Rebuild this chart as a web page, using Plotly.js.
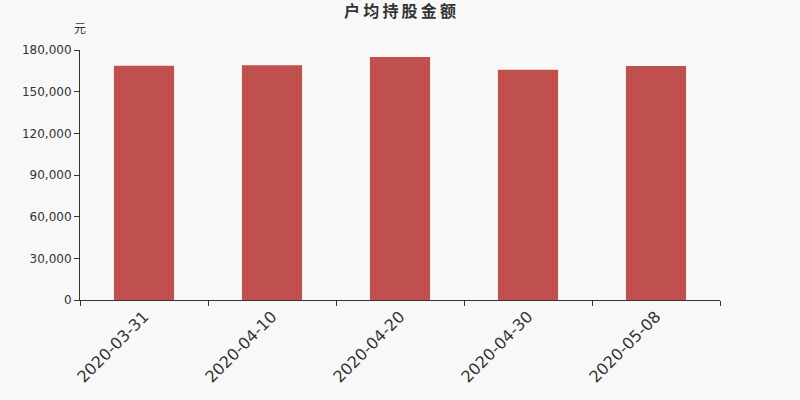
<!DOCTYPE html>
<html>
<head>
<meta charset="utf-8">
<script src="https://cdn.plot.ly/plotly-3.0.1.min.js"></script>
<style>
  html, body { margin: 0; padding: 0; background: #f8f8f8; }
  #chart { width: 800px; height: 400px; }
</style>
</head>
<body>
<div id="chart"></div>
<script>
// 户均持股金额 (元) by report date
const dates = ['2020-03-31', '2020-04-10', '2020-04-20', '2020-04-30', '2020-05-08'];
const amounts = [168700, 169100, 174900, 165800, 168400];
const yTicks = [0, 30000, 60000, 90000, 120000, 150000, 180000];
const chartTitle = '户均持股金额';
const unitLabel = '元';

const font = 'DejaVu Sans, Noto Sans CJK SC, sans-serif';

const data = [{
    type: 'bar',
    x: dates,
    y: amounts,
    marker: { color: '#c0504d' },
    hoverinfo: 'x+y'
}];

const layout = {
    width: 800,
    height: 400,
    paper_bgcolor: '#f8f8f8',
    plot_bgcolor: '#f8f8f8',
    margin: { l: 80, r: 80, t: 50, b: 100 },
    bargap: 0.53,
    showlegend: false,
    font: { family: font, color: '#333' },
    title: {
        // thin spaces between characters, the reference title is letter-spaced
        text: '<b>' + chartTitle.split('').join('\u2009') + '</b>',
        x: 0.5, xanchor: 'center',
        y: 0.985, yanchor: 'top',
        font: { size: 16, color: '#333', family: font }
    },
    xaxis: {
        type: 'category',
        tickson: 'boundaries',
        ticks: 'outside',
        ticklen: 5,
        tickcolor: '#333',
        showline: true,
        linecolor: '#333',
        linewidth: 1,
        showgrid: false,
        zeroline: false,
        tickangle: -45,
        tickfont: { size: 16, color: '#333' }
    },
    yaxis: {
        range: [0, 180000],
        tickvals: yTicks,
        ticktext: yTicks.map(v => v.toLocaleString('en-US')),
        ticks: 'outside',
        ticklen: 5,
        tickcolor: '#333',
        showline: true,
        linecolor: '#333',
        linewidth: 1,
        showgrid: false,
        zeroline: false,
        tickfont: { size: 12, color: '#333' }
    },
    annotations: [{
        text: unitLabel,
        xref: 'paper', yref: 'paper',
        x: 0, y: 1,
        xanchor: 'center', yanchor: 'bottom',
        yshift: 12,
        showarrow: false,
        font: { size: 12, color: '#333' }
    }]
};

Plotly.newPlot('chart', data, layout, { displayModeBar: false, staticPlot: true });
</script>
</body>
</html>
